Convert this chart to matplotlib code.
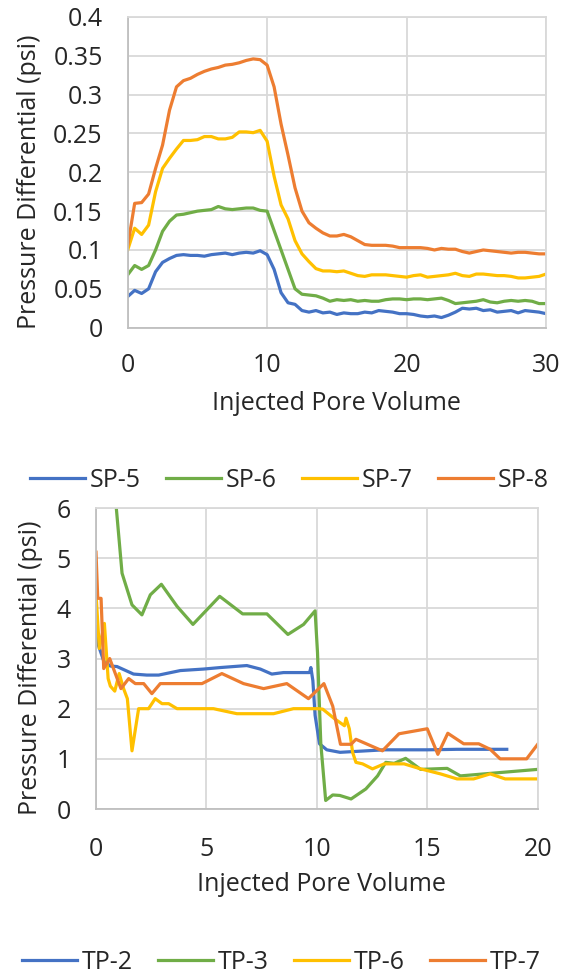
import matplotlib
matplotlib.use("Agg")
import matplotlib.pyplot as plt
from matplotlib.ticker import FuncFormatter

plt.rcParams['font.family'] = ['Open Sans', 'DejaVu Sans']

# top chart: SP cores, sampled every 0.5 PV
pv_sp = [i * 0.5 for i in range(61)]
sp5 = [0.040, 0.048, 0.044, 0.050, 0.072, 0.084, 0.089, 0.093, 0.094, 0.093,
       0.093, 0.092, 0.094, 0.095, 0.096, 0.094, 0.096, 0.097, 0.096, 0.099,
       0.094, 0.075, 0.045, 0.032, 0.030, 0.022, 0.020, 0.022, 0.019, 0.020,
       0.017, 0.019, 0.018, 0.018, 0.020, 0.019, 0.022, 0.021, 0.020, 0.018,
       0.018, 0.017, 0.015, 0.014, 0.015, 0.013, 0.016, 0.020, 0.025, 0.024,
       0.025, 0.022, 0.023, 0.020, 0.021, 0.022, 0.019, 0.022, 0.021, 0.020,
       0.018]
sp6 = [0.068, 0.080, 0.075, 0.080, 0.100, 0.124, 0.137, 0.145, 0.146, 0.148,
       0.150, 0.151, 0.152, 0.156, 0.153, 0.152, 0.153, 0.154, 0.154, 0.151,
       0.150, 0.125, 0.100, 0.075, 0.050, 0.043, 0.042, 0.041, 0.038, 0.034,
       0.036, 0.035, 0.036, 0.034, 0.035, 0.034, 0.034, 0.036, 0.037, 0.037,
       0.036, 0.037, 0.037, 0.036, 0.037, 0.038, 0.035, 0.031, 0.032, 0.033,
       0.034, 0.036, 0.033, 0.032, 0.034, 0.035, 0.034, 0.035, 0.034, 0.031,
       0.031]
sp7 = [0.100, 0.128, 0.120, 0.132, 0.175, 0.205, 0.218, 0.230, 0.241, 0.241,
       0.242, 0.246, 0.246, 0.243, 0.243, 0.245, 0.252, 0.252, 0.251, 0.254,
       0.240, 0.195, 0.158, 0.140, 0.112, 0.095, 0.085, 0.076, 0.073, 0.073,
       0.072, 0.073, 0.070, 0.067, 0.066, 0.068, 0.068, 0.068, 0.067, 0.066,
       0.065, 0.067, 0.068, 0.065, 0.066, 0.067, 0.068, 0.070, 0.067, 0.066,
       0.069, 0.069, 0.068, 0.067, 0.067, 0.066, 0.064, 0.064, 0.065, 0.066,
       0.069]
sp8 = [0.105, 0.160, 0.161, 0.172, 0.205, 0.235, 0.280, 0.310, 0.318, 0.321,
       0.326, 0.330, 0.333, 0.335, 0.338, 0.339, 0.341, 0.344, 0.346, 0.345,
       0.338, 0.310, 0.262, 0.222, 0.180, 0.150, 0.135, 0.128, 0.122, 0.118,
       0.118, 0.120, 0.117, 0.112, 0.107, 0.106, 0.106, 0.106, 0.105, 0.103,
       0.103, 0.103, 0.103, 0.102, 0.100, 0.102, 0.101, 0.101, 0.098, 0.096,
       0.098, 0.100, 0.099, 0.098, 0.097, 0.096, 0.097, 0.097, 0.096, 0.095,
       0.095]

# bottom chart: TP cores
tp2_x = [0, 0.12, 0.35, 0.65, 0.95, 1.7, 2.3, 2.84, 3.82, 4.87, 5.63, 6.83, 7.44,
         7.96, 8.49, 9.67, 9.73, 9.82, 9.92, 10.12, 10.45, 11.05, 13.05, 15.0,
         16.35, 18.6]
tp2_y = [3.64, 3.25, 2.95, 2.85, 2.84, 2.69, 2.67, 2.67, 2.76, 2.79, 2.82, 2.86,
         2.79, 2.69, 2.72, 2.72, 2.82, 2.56, 1.87, 1.30, 1.18, 1.13, 1.18, 1.18,
         1.19, 1.19]
tp3_x = [0.8, 0.92, 1.18, 1.63, 2.08, 2.46, 2.96, 3.67, 4.39, 5.6, 6.64, 7.74,
         8.69, 9.4, 9.92, 10.03, 10.18, 10.4, 10.72, 11.04, 11.55, 12.22, 12.75,
         13.12, 13.5, 14.02, 14.7, 15.9, 16.5, 20]
tp3_y = [7.5, 6.0, 4.7, 4.07, 3.87, 4.27, 4.48, 4.04, 3.68, 4.24, 3.89, 3.89,
         3.48, 3.68, 3.95, 3.12, 1.3, 0.17, 0.28, 0.27, 0.2, 0.4, 0.66, 0.93,
         0.91, 1.01, 0.79, 0.81, 0.66, 0.79]
tp6_x = [0, 0.15, 0.38, 0.55, 0.65, 0.85, 1.05, 1.25, 1.42, 1.63, 1.93, 2.38,
         2.68, 2.99, 3.29, 3.67, 5.32, 6.38, 8.04, 8.94, 10.07, 10.27, 10.8,
         11.25, 11.32, 11.47, 11.62, 11.77, 12.07, 12.52, 13.05, 13.95, 14.7,
         15.6, 16.35, 17.1, 17.85, 18.53, 20]
tp6_y = [4.3, 3.2, 3.7, 2.6, 2.45, 2.35, 2.7, 2.4, 2.2, 1.16, 2.0, 2.0, 2.2, 2.1,
         2.1, 2.0, 2.0, 1.9, 1.9, 2.0, 2.0, 1.99, 1.8, 1.66, 1.81, 1.6, 1.13,
         0.93, 0.9, 0.8, 0.9, 0.9, 0.8, 0.7, 0.6, 0.6, 0.7, 0.6, 0.6]
tp7_x = [0, 0.08, 0.23, 0.35, 0.62, 1.13, 1.48, 1.78, 2.16, 2.53, 2.91, 4.8, 5.7,
         6.68, 7.59, 8.64, 9.62, 10.32, 10.72, 11.07, 11.55, 11.77, 12.97, 13.72,
         15.0, 15.48, 15.93, 16.65, 17.33, 17.85, 18.3, 19.5, 20]
tp7_y = [5.12, 4.2, 4.2, 2.8, 3.0, 2.4, 2.6, 2.5, 2.5, 2.3, 2.5, 2.5, 2.7, 2.5,
         2.4, 2.5, 2.2, 2.5, 2.05, 1.29, 1.29, 1.39, 1.16, 1.5, 1.6, 1.09, 1.51,
         1.30, 1.30, 1.19, 1.0, 1.0, 1.29]

blue = "#4472C4"
green = "#70AD47"
yellow = "#FFC000"
orange = "#ED7D31"
grid_c = "#D9D9D9"
txt_c = "#262626"
fs = 18
lw = 2.3

fig = plt.figure(figsize=(5.67, 9.74), dpi=100)


def style(ax, xpad):
    ax.grid(True, color=grid_c, linewidth=1.3)
    ax.set_axisbelow(True)
    for s in ax.spines.values():
        s.set_color(grid_c)
        s.set_linewidth(1.3)
    ax.spines['bottom'].set_color("#BFBFBF")
    ax.spines['left'].set_color("#BFBFBF")
    ax.tick_params(length=0, labelsize=fs, labelcolor=txt_c)
    ax.tick_params(axis='y', pad=18)
    ax.tick_params(axis='x', pad=xpad)


ax1 = fig.add_axes([0.2252, 0.6636, 0.7378, 0.3190])
ax1.plot(pv_sp, sp5, color=blue, lw=lw, label="SP-5")
ax1.plot(pv_sp, sp6, color=green, lw=lw, label="SP-6")
ax1.plot(pv_sp, sp7, color=yellow, lw=lw, label="SP-7")
ax1.plot(pv_sp, sp8, color=orange, lw=lw, label="SP-8")
ax1.set_xlim(0, 30)
ax1.set_ylim(0, 0.4)
ax1.set_xticks([0, 10, 20, 30])
ax1.set_yticks([0, 0.05, 0.1, 0.15, 0.2, 0.25, 0.3, 0.35, 0.4])
ax1.yaxis.set_major_formatter(FuncFormatter(lambda v, p: "%g" % v))
style(ax1, 18)
ax1.set_xlabel("Injected Pore Volume", fontsize=fs, color=txt_c)
ax1.set_ylabel("Pressure Differential (psi)", fontsize=fs, color=txt_c)
ax1.xaxis.set_label_coords(0.5, -0.205)
ax1.yaxis.set_label_coords(-0.205, 0.47)

ax2 = fig.add_axes([0.1693, 0.1694, 0.7790, 0.3090])
ax2.plot(tp2_x, tp2_y, color=blue, lw=lw, label="TP-2")
ax2.plot(tp3_x, tp3_y, color=green, lw=lw, label="TP-3")
ax2.plot(tp6_x, tp6_y, color=yellow, lw=lw, label="TP-6")
ax2.plot(tp7_x, tp7_y, color=orange, lw=lw, label="TP-7")
ax2.set_xlim(0, 20)
ax2.set_ylim(0, 6)
ax2.set_xticks([0, 5, 10, 15, 20])
ax2.set_yticks(range(7))
style(ax2, 20)
ax2.set_xlabel("Injected Pore Volume", fontsize=fs, color=txt_c)
ax2.set_ylabel("Pressure Differential (psi)", fontsize=fs, color=txt_c)
ax2.xaxis.set_label_coords(0.51, -0.21)
ax2.yaxis.set_label_coords(-0.12, 0.47)

leg_kw = dict(loc="center", ncol=4, frameon=False, fontsize=fs,
              handlelength=2.2, handletextpad=0.2, columnspacing=1.0,
              labelcolor=txt_c)
h, l = ax1.get_legend_handles_labels()
fig.legend(h, l, bbox_to_anchor=(0.51, 0.507), **leg_kw)
h, l = ax2.get_legend_handles_labels()
fig.legend(h, l, bbox_to_anchor=(0.496, 0.0123), **leg_kw)

fig.savefig("out.png", dpi=100)
